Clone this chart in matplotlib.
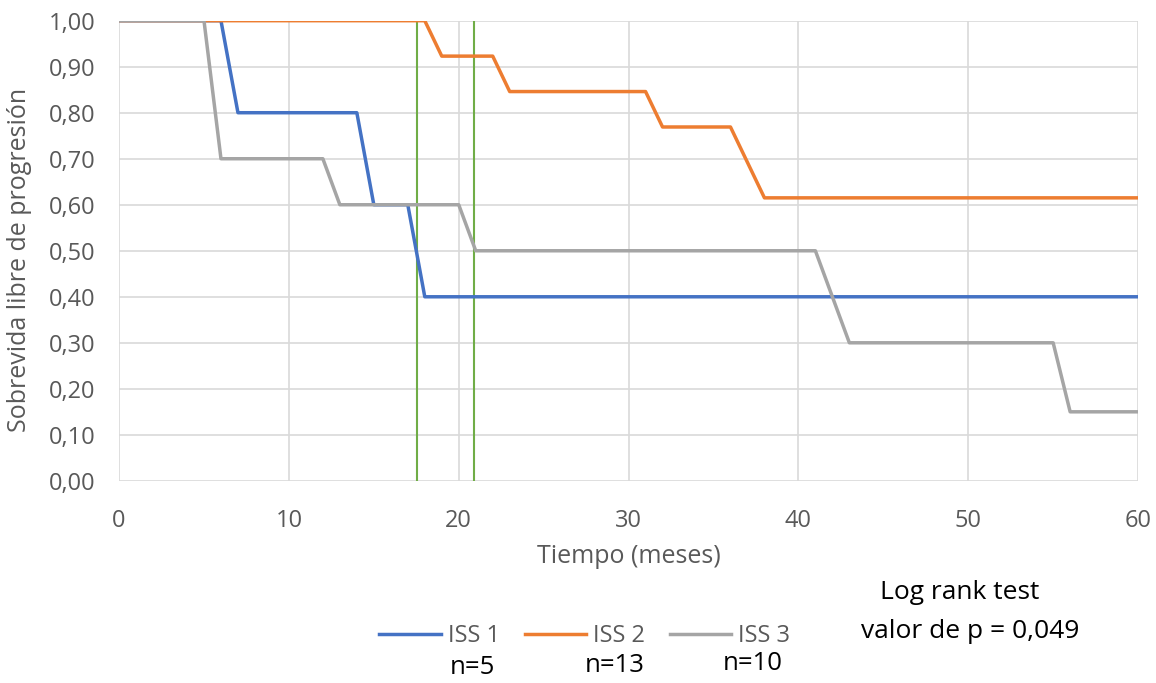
import matplotlib
matplotlib.use("Agg")
import matplotlib.pyplot as plt
from matplotlib.ticker import FuncFormatter

# Kaplan-Meier style curves as drawn by Excel (points joined by straight lines)
iss1_t = [0, 6, 7, 14, 15, 17, 18, 60]
iss1_s = [1.0, 1.0, 0.8, 0.8, 0.6, 0.6, 0.4, 0.4]

iss2_t = [0, 18, 19, 22, 23, 31, 32, 36, 38, 60]
iss2_s = [1.0, 1.0, 0.923, 0.923, 0.846, 0.846, 0.769, 0.769, 0.615, 0.615]

iss3_t = [0, 5, 6, 12, 13, 20, 21, 41, 43, 55, 56, 60]
iss3_s = [1.0, 1.0, 0.7, 0.7, 0.6, 0.6, 0.5, 0.5, 0.3, 0.3, 0.15, 0.15]

medians = [17.55, 20.9]
labels = ['ISS 1', 'ISS 2', 'ISS 3']
n_labels = ['n=5', 'n=13', 'n=10']

colors = {'ISS 1': '#4472C4', 'ISS 2': '#ED7D31', 'ISS 3': '#A5A5A5'}
txt_gray = '#595959'

plt.rcParams['font.family'] = ['Open Sans', 'DejaVu Sans']

fig = plt.figure(figsize=(11.56, 6.83), dpi=100)
ax = fig.add_axes([0.103, 0.296, 0.8815, 0.6737])

for m in medians:
    ax.plot([m, m], [0, 1], color='#70AD47', lw=1.5, zorder=2)

ax.plot(iss1_t, iss1_s, color=colors['ISS 1'], lw=2.5, label=labels[0], zorder=3)
ax.plot(iss2_t, iss2_s, color=colors['ISS 2'], lw=2.5, label=labels[1], zorder=3)
ax.plot(iss3_t, iss3_s, color=colors['ISS 3'], lw=2.5, label=labels[2], zorder=3)

ax.set_xlim(0, 60)
ax.set_ylim(0, 1)
ax.set_xticks(range(0, 61, 10))
ax.set_yticks([i / 10 for i in range(11)])
ax.yaxis.set_major_formatter(FuncFormatter(lambda v, p: f'{v:.2f}'.replace('.', ',')))
ax.grid(True, color='#D9D9D9', lw=1.2)
ax.set_axisbelow(True)
for s in ax.spines.values():
    s.set_visible(False)
ax.tick_params(length=0, labelsize=17, colors=txt_gray)
ax.tick_params(axis='y', pad=17)
ax.tick_params(axis='x', pad=20)
ax.set_xlabel('Tiempo (meses)', fontsize=18, color=txt_gray)
ax.set_ylabel('Sobrevida libre de progresión', fontsize=18, color=txt_gray)
ax.xaxis.set_label_coords(0.5, -0.138)
ax.yaxis.set_label_coords(-0.0854, 0.48)

fig.legend(loc='center', bbox_to_anchor=(0.506, 0.069), ncol=3, frameon=False,
           fontsize=17, labelcolor=txt_gray, handlelength=2.6, handletextpad=0.3,
           columnspacing=1.05)

for x, y, t in zip([0.409, 0.532, 0.651], [0.023, 0.025, 0.029], n_labels):
    fig.text(x, y, t, fontsize=18.5, color='black', ha='center', va='center')

fig.text(0.830, 0.1332, 'Log rank test', fontsize=19, color='black', ha='center', va='center')
fig.text(0.839, 0.0747, 'valor de p = 0,049', fontsize=19, color='black', ha='center', va='center')

fig.savefig('out.png', dpi=100)
